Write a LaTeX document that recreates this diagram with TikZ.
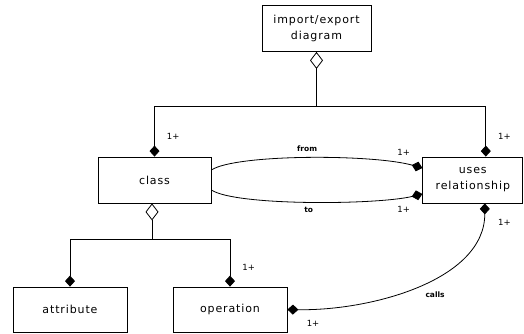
\documentclass[tikz,border=0pt]{standalone}
\usepackage{fontspec}
\usetikzlibrary{arrows.meta, positioning}
\newfontfamily\entityfont{DejaVu Sans}[LetterSpace=8]
\newfontfamily\multfont{DejaVu Sans}

\begin{document}
\begin{tikzpicture}[x=1pt, y=1pt]
    \tikzset{entity/.style={rectangle, draw, line width=0.8pt, inner sep=0pt, align=center, minimum height=46pt, font=\entityfont\fontsize{11}{16}\selectfont}}
    \tikzset{mult/.style={inner sep=0pt, font=\multfont\fontsize{8.5}{10}\selectfont}}
    \tikzset{role/.style={inner sep=0pt, font=\multfont\bfseries\fontsize{7.5}{9}\selectfont}}
    \tikzset{link/.style={line width=0.8pt}}
    \tikzset{has/.style={link, -{Diamond[open, length=17pt, width=13pt]}}}
    \tikzset{part/.style={link, -{Diamond[length=11pt, width=10pt]}}}
    \useasboundingbox (0,0) rectangle (524,333);

    % Entities
    \node[entity, minimum width=109pt] (diagram) at (316.5,304.5) {import/export\\diagram};
    \node[entity, minimum width=113pt] (class) at (154.5,153) {class};
    \begin{scope}[node distance=211pt]
    \node[entity, minimum width=100pt, right=of class] (uses) {uses\\relationship};
    \end{scope}
    \node[entity, minimum width=114pt, minimum height=45pt] (attribute) at (70,23.5) {attribute};
    \node[entity, minimum width=114pt, minimum height=45pt] (operation) at (230,23.5) {operation};

    \coordinate (tjoin) at ([yshift=-54pt]diagram.south);
    \coordinate (bjoin) at ([xshift=-2.5pt, yshift=-36pt]class.south);

    % Diagram contents
    \draw[has] (tjoin) -- (diagram.south);
    \draw[part] (tjoin) -| (class.north) node[pos=0.8, right=12pt, mult] {1+};
    \draw[part] (tjoin) -| ([xshift=13pt]uses.north) node[pos=0.8, right=12pt, mult] {1+};

    % Class members
    \draw[has] (bjoin) -- (bjoin |- class.south);
    \draw[part] (bjoin) -| (attribute.north);
    \draw[part] (bjoin) -| (operation.north) node[pos=0.8, right=12pt, mult] {1+};

    % Relationship ends
    \draw[part] ([yshift=10pt]class.east) .. controls +(24,16) and +(-50,14) .. ([yshift=12pt]uses.west)
        node[midway, above=6pt, role] {from}
        node[pos=1, above left=12pt and 12pt, mult] {1+};
    \draw[part] ([yshift=-10pt]class.east) .. controls +(24,-16) and +(-46,-11) .. ([yshift=-14pt]uses.west)
        node[midway, below=5pt, role] {to}
        node[pos=1, below left=12pt and 12pt, mult] {1+};
    \draw[part, {Diamond[length=11pt, width=10pt]}-{Diamond[length=11pt, width=10pt]}] ([xshift=12pt]uses.south) .. controls +(0,-77) and +(83,-1.5) .. (operation.east)
        node[pos=0.42, below=14pt, role] {calls}
        node[pos=0, below right=15pt and 13pt, mult] {1+}
        node[pos=1, below right=10pt and 19pt, mult] {1+};
\end{tikzpicture}
\end{document}
